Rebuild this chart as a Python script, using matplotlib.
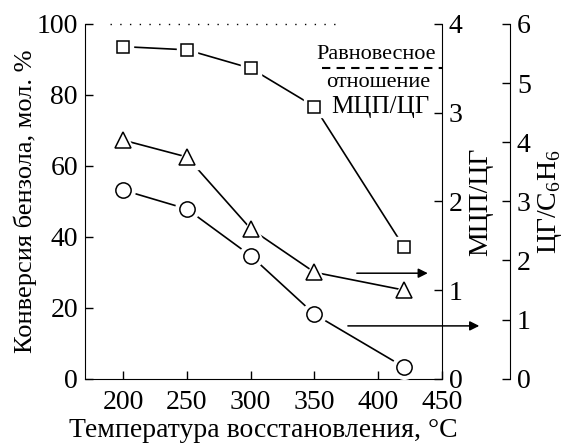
import matplotlib
matplotlib.use("Agg")
import matplotlib.pyplot as plt
from matplotlib import font_manager as fm

names = sorted({f.name for f in fm.fontManager.ttflist})
serif = [n for n in ['Liberation Serif', 'DejaVu Serif', 'Noto Serif'] if n in names]
plt.rcParams['font.family'] = 'serif'
plt.rcParams['font.serif'] = serif + ['DejaVu Serif']
plt.rcParams['mathtext.fontset'] = 'custom'
plt.rcParams['mathtext.rm'] = serif[0] if serif else 'DejaVu Serif'

temps = [200, 250, 300, 350, 420]
conversion = [93.6, 92.7, 87.5, 76.7, 37.2]      # squares, left axis
mcp_cg = [2.69, 2.50, 1.69, 1.20, 1.00]          # triangles, right axis 1
cg_c6h6 = [3.19, 2.87, 2.08, 1.09, 0.20]         # circles, right axis 2

xticks = [200, 250, 300, 350, 400, 450]
equil_ratio = 3.5

FS = 20
fig = plt.figure(figsize=(5.66, 4.43), dpi=100)
ax = fig.add_axes([0.150, 0.145, 0.631, 0.801])
ax2 = ax.twinx()
ax3 = ax.twinx()

def series(a, x, y, marker, ms):
    a.plot(x, y, color='black', lw=1.2, zorder=2)
    a.plot(x, y, ls='none', marker=marker, ms=ms + 6, mfc='white', mec='white', zorder=3)
    a.plot(x, y, ls='none', marker=marker, ms=ms, mfc='white', mec='black', mew=1.1, zorder=4)

series(ax, temps, conversion, 's', 9)
series(ax2, temps, mcp_cg, '^', 11)
series(ax3, temps, cg_c6h6, 'o', 11)

ax.set_xlim(170, 450)
ax.set_ylim(0, 100)
ax2.set_ylim(0, 4)
ax3.set_ylim(0, 6)

# dotted line at 100 %
ax.plot([190, 372], [100, 100], ls=(0, (1, 6)), color='black', lw=1.0, clip_on=False)
# equilibrium ratio dashed line
ax2.plot([356, 450], [equil_ratio, equil_ratio], ls=(0, (4, 3)), color='black', lw=1.5)
ax2.text(398, 3.61, 'Равновесное', ha='center', va='baseline', fontsize=16)
ax2.text(400, 3.29, 'отношение', ha='center', va='baseline', fontsize=16)
ax2.text(402, 3.0, 'МЦП/ЦГ', ha='center', va='baseline', fontsize=18)

# arrows
ax2.annotate('', xy=(441, 1.19), xytext=(381, 1.19),
             arrowprops=dict(arrowstyle='-|>', color='black', lw=1.1, mutation_scale=14))
ax.annotate('', xy=(1.112, 14.9), xycoords=('axes fraction', 'data'),
            xytext=(374, 14.9), textcoords='data',
            arrowprops=dict(arrowstyle='-|>', color='black', lw=1.1, mutation_scale=14))

ax.set_xticks(xticks)
ax.set_yticks([0, 20, 40, 60, 80, 100])
ax2.set_yticks([0, 1, 2, 3, 4])
ax3.set_yticks([0, 1, 2, 3, 4, 5, 6])

for a in (ax, ax2, ax3):
    a.tick_params(direction='in', length=6, width=1, labelsize=FS, pad=5)
    a.spines['top'].set_visible(False)
ax.tick_params(axis='x', pad=8)

ax.spines['right'].set_visible(False)
ax2.spines['left'].set_visible(False)
ax3.spines['left'].set_visible(False)
ax3.spines['right'].set_position(('axes', 1.19))
ax3.spines['bottom'].set_visible(False)
ax2.spines['bottom'].set_visible(False)

ax.set_xlabel('Температура восстановления, °C', fontsize=FS, labelpad=2)
ax.set_ylabel('Конверсия бензола, мол. %', fontsize=19, labelpad=0)
ax2.set_ylabel('МЦП/ЦГ', fontsize=FS, labelpad=4)
ax3.set_ylabel('ЦГ/C$_6$H$_6$', fontsize=FS, labelpad=4)

fig.savefig('out.png', dpi=100)
